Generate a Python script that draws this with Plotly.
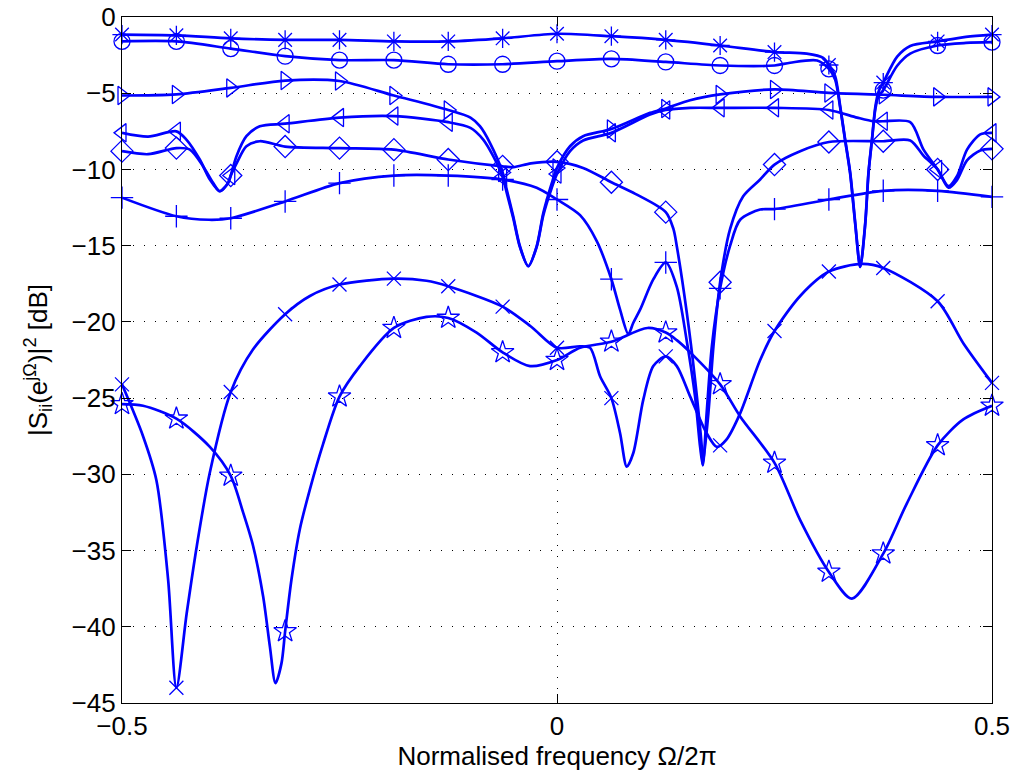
import plotly.graph_objects as go

# marker abscissae (every 1/16)
MARKER_X = [-0.5, -0.4375, -0.375, -0.3125, -0.25, -0.1875, -0.125, -0.0625, 0.0,
            0.0625, 0.125, 0.1875, 0.25, 0.3125, 0.375, 0.4375, 0.5]

# ---- series 1: asterisk ----
AST_LX = [-0.5, -0.4375, -0.375, -0.3125, -0.25, -0.1875, -0.125, -0.0625, 0, 0.0625, 0.125, 0.1875,
          0.25, 0.287, 0.306, 0.3125, 0.3197, 0.3255, 0.3312, 0.337, 0.3428, 0.3485, 0.3543, 0.358,
          0.362, 0.366, 0.3696, 0.375, 0.391, 0.406, 0.4375, 0.47, 0.5]
AST_LY = [-1.15, -1.2, -1.4, -1.5, -1.5, -1.6, -1.6, -1.4, -1.1, -1.26, -1.5, -1.87,
          -2.3, -2.4, -2.68, -3.15, -3.88, -5.85, -8.04, -10.2, -13.5, -16.4, -13.5, -10.2,
          -8.04, -5.85, -4.9, -4.3, -2.6, -1.9, -1.6, -1.3, -1.15]
AST_M = [-1.15, -1.2, -1.4, -1.5, -1.5, -1.6, -1.6, -1.4, -1.1, -1.26, -1.5, -1.87, -2.3, -3.15, -4.3, -1.6, -1.15]

# ---- series 2: circle ----
CIRC_LX = [-0.5, -0.4375, -0.375, -0.3125, -0.25, -0.1875, -0.125, -0.0625, 0, 0.0625, 0.125, 0.1875,
           0.25, 0.268, 0.299, 0.3125, 0.3197, 0.3255, 0.3312, 0.337, 0.3428, 0.3485, 0.3543, 0.358,
           0.362, 0.366, 0.3696, 0.375, 0.391, 0.406, 0.4375, 0.47, 0.5]
CIRC_LY = [-1.6, -1.6, -2.07, -2.57, -2.83, -2.83, -3.1, -3.1, -2.9, -2.75, -2.95, -3.18,
           -3.18, -3.0, -2.85, -3.4, -4.1, -5.95, -8.1, -10.3, -13.6, -16.4, -13.6, -10.3,
           -8.1, -6.0, -5.2, -4.8, -3.2, -2.4, -1.87, -1.7, -1.65]
CIRC_M = [-1.6, -1.6, -2.07, -2.57, -2.83, -2.83, -3.1, -3.1, -2.9, -2.75, -2.95, -3.18, -3.18, -3.4, -4.8, -1.87, -1.65]

# ---- series 3: right triangle ----
TRR_LX = [-0.5, -0.4375, -0.375, -0.3125, -0.25, -0.1875, -0.125, -0.0995, -0.0886, -0.0771, -0.0625,
          -0.0579, -0.0503, -0.0426, -0.033, -0.0234, -0.0157, -0.006, 0, 0.015, 0.03, 0.0625, 0.107,
          0.125, 0.153, 0.1875, 0.25, 0.3125, 0.375, 0.4375, 0.5]
TRR_LY = [-5.15, -5.08, -4.65, -4.17, -4.2, -5.15, -6.1, -6.6, -7.16, -8.25, -10.2,
          -11.3, -13.07, -15.04, -16.35, -15.04, -12.85, -10.9, -9.9, -8.48, -7.82, -7.35, -6.29,
          -6.0, -5.46, -5.08, -4.75, -4.98, -5.1, -5.24, -5.24]
TRR_M = [-5.15, -5.08, -4.65, -4.17, -4.2, -5.15, -6.1, -10.2, -9.9, -7.35, -6.0, -5.08, -4.75, -4.98, -5.1, -5.24, -5.24]

# ---- series 4: left triangle ----
TRL_LX = [-0.5, -0.47, -0.4375, -0.426, -0.4106, -0.399, -0.3876, -0.378, -0.375, -0.3684, -0.357,
          -0.3416, -0.3125, -0.25, -0.1875, -0.125, -0.0995, -0.0848, -0.0733, -0.0625, -0.0579,
          -0.0503, -0.0426, -0.033, -0.0234, -0.0157, -0.006, 0, 0.015, 0.03, 0.0625, 0.107, 0.125,
          0.153, 0.1875, 0.25, 0.3125, 0.345, 0.3638, 0.375, 0.406, 0.4213, 0.4375, 0.45, 0.4597,
          0.4713, 0.4865, 0.5]
TRL_LY = [-7.6, -7.85, -7.5, -8.04, -9.35, -10.66, -11.43, -10.88, -10.4, -9.13, -7.82,
          -7.17, -7.0, -6.6, -6.5, -6.9, -7.27, -8.04, -9.13, -10.5, -11.5,
          -13.2, -15.1, -16.35, -15.1, -13.0, -11.2, -10.3, -8.8, -8.1, -7.6, -6.4, -6.1,
          -5.96, -5.96, -5.96, -6.1, -6.6, -6.84, -6.84, -6.9, -8.7, -10.0, -11.1, -10.45,
          -8.7, -7.7, -7.6]
TRL_M = [-7.6, -7.5, -10.4, -7.0, -6.6, -6.5, -6.9, -10.5, -10.3, -7.6, -6.1, -5.96, -5.96, -6.1, -6.84, -10.0, -7.6]

# ---- series 5: diamond ----
DIA_LX = [-0.5, -0.47, -0.4375, -0.422, -0.4068, -0.3953, -0.3876, -0.378, -0.375, -0.368, -0.357,
          -0.3416, -0.3125, -0.25, -0.1875, -0.125, -0.0625, -0.05, -0.03, 0, 0.03, 0.0625, 0.09,
          0.125, 0.1338, 0.1377, 0.1492, 0.1587, 0.1664, 0.1676, 0.174, 0.1798, 0.1875, 0.199, 0.214,
          0.2335, 0.25, 0.2795, 0.3125, 0.375, 0.406, 0.4213, 0.4375, 0.45, 0.4597, 0.4713, 0.4865, 0.5]
DIA_LY = [-8.8, -9.0, -8.6, -8.7, -9.79, -10.88, -11.43, -10.88, -10.4, -9.57, -8.48,
          -8.15, -8.5, -8.6, -8.7, -9.35, -9.8, -9.85, -9.6, -9.5, -9.9, -10.84, -11.6,
          -12.8, -13.9, -15.04, -19.4, -23.8, -28.2, -29.4, -26.0, -21.6, -17.4, -13.9, -11.76,
          -10.66, -9.68, -8.8, -8.2, -8.15, -8.1, -9.1, -10.0, -11.2, -10.7, -9.4, -8.75, -8.65]
DIA_M = [-8.8, -8.6, -10.4, -8.5, -8.6, -8.7, -9.35, -9.8, -9.5, -10.84, -12.8, -17.4, -9.68, -8.2, -8.15, -10.0, -8.65]

# ---- series 6: plus ----
PLS_LX = [-0.5, -0.4375, -0.4, -0.375, -0.3125, -0.25, -0.1875, -0.125, -0.0625, -0.0234, 0, 0.0265,
          0.0457, 0.0625, 0.0725, 0.082, 0.0876, 0.0955, 0.1108, 0.125, 0.1377, 0.149, 0.1587, 0.1645,
          0.1676, 0.172, 0.178, 0.1875, 0.199, 0.2105, 0.2335, 0.25, 0.3125, 0.375, 0.4375, 0.5]
PLS_LY = [-11.85, -13.07, -13.3, -13.2, -12.1, -10.9, -10.4, -10.4, -10.66, -11.2, -11.97, -13.0,
          -14.7, -17.2, -19.2, -20.8, -20.07, -19.2, -17.2, -16.1, -17.7, -21.2, -24.9, -28.2,
          -29.4, -26.0, -21.6, -17.8, -15.0, -13.3, -12.63, -12.6, -11.97, -11.4, -11.4, -11.8]
PLS_M = [-11.85, -13.07, -13.2, -12.1, -10.9, -10.4, -10.4, -10.66, -11.97, -17.2, -16.1, -17.8, -12.6, -11.97, -11.4, -11.4, -11.8]

# ---- series 7: x ----
XX_LX = [-0.5, -0.4758, -0.4604, -0.447, -0.4375, -0.4256, -0.414, -0.3991, -0.375, -0.3493, -0.3125,
         -0.284, -0.25, -0.1875, -0.15, -0.125, -0.0625, -0.03, 0, 0.0265, 0.038, 0.0495, 0.0625,
         0.0725, 0.0802, 0.0877, 0.0992, 0.1107, 0.125, 0.1377, 0.1531, 0.172, 0.1837, 0.195, 0.2105,
         0.2335, 0.25, 0.2795, 0.3125, 0.35, 0.375, 0.4375, 0.467, 0.5]
XX_LY = [-24.1, -27.5, -30.4, -36.9, -44.0, -39.1, -34.7, -29.9, -24.6, -21.8, -19.5,
         -18.3, -17.55, -17.16, -17.3, -17.66, -19.0, -20.3, -21.7, -21.6, -21.7, -23.57, -25.0,
         -27.3, -29.5, -28.6, -25.1, -22.9, -22.26, -22.9, -24.9, -27.3, -28.2, -27.7, -26.0,
         -22.5, -20.6, -18.3, -16.7, -16.2, -16.46, -18.65, -21.4, -24.0]
XX_M = [-24.1, -44.0, -24.6, -19.5, -17.55, -17.16, -17.66, -19.0, -21.7, -25.0, -22.26, -28.1, -20.6, -16.7, -16.46, -18.65, -24.0]

# ---- series 8: pentagram ----
STR_LX = [-0.5, -0.4758, -0.4375, -0.399, -0.375, -0.3608, -0.3493, -0.3378, -0.33, -0.3236, -0.3167,
          -0.3125, -0.3052, -0.2956, -0.2841, -0.2688, -0.25, -0.2266, -0.1875, -0.15, -0.125, -0.0924,
          -0.0625, -0.031, 0, 0.0265, 0.0625, 0.104, 0.125, 0.1377, 0.1531, 0.1875, 0.2105, 0.25,
          0.2795, 0.3125, 0.339, 0.375, 0.4022, 0.4375, 0.467, 0.5]
STR_LY = [-25.4, -25.5, -26.35, -28.2, -30.1, -32.5, -34.7, -38.0, -41.3, -43.7, -42.4,
          -40.3, -36.9, -33.6, -31.0, -28.0, -24.9, -22.9, -20.4, -19.67, -19.74, -20.7,
          -22.0, -22.9, -22.5, -21.7, -21.3, -20.4, -20.7, -21.2, -22.0, -24.1, -26.2, -29.25,
          -33.0, -36.4, -38.15, -35.2, -31.9, -28.1, -26.4, -25.5]
STR_M = [-25.4, -26.35, -30.1, -40.3, -24.9, -20.4, -19.74, -22.0, -22.5, -21.3, -20.7, -24.1, -29.25, -36.4, -35.2, -28.1, -25.5]

SERIES = [
    (AST_LX, AST_LY, AST_M, "asterisk-open", 16),
    (CIRC_LX, CIRC_LY, CIRC_M, "circle-open", 16),
    (TRR_LX, TRR_LY, TRR_M, "triangle-right-open", 16),
    (TRL_LX, TRL_LY, TRL_M, "triangle-left-open", 16),
    (DIA_LX, DIA_LY, DIA_M, "diamond-open", 17),
    (PLS_LX, PLS_LY, PLS_M, "cross-thin-open", 16),
    (XX_LX, XX_LY, XX_M, "x-thin-open", 14),
    (STR_LX, STR_LY, STR_M, "star-open", 17),
]

BLUE = "rgb(0,0,255)"
FONT = "Liberation Sans, Arial, Helvetica, sans-serif"
FS = 26

fig = go.Figure()
for lx, ly, m, sym, sz in SERIES:
    fig.add_trace(go.Scatter(x=lx, y=ly, mode="lines",
                             line=dict(color=BLUE, width=2.7, shape="spline", smoothing=0.8),
                             showlegend=False, hoverinfo="skip"))
    fig.add_trace(go.Scatter(x=MARKER_X, y=m, mode="markers", cliponaxis=False,
                             marker=dict(symbol=sym, size=sz, color=BLUE,
                                         line=dict(color=BLUE, width=1.3)),
                             showlegend=False))

axis_common = dict(showline=True, linecolor="black", linewidth=1.2, mirror="ticks",
                   ticks="inside", ticklen=9, tickcolor="black", tickwidth=1,
                   showgrid=True, gridcolor="black", gridwidth=1, griddash="1px,10px",
                   zeroline=False, automargin=False,
                   tickfont=dict(family=FONT, size=FS, color="black"))

fig.update_xaxes(range=[-0.5, 0.5], tickvals=[-0.5, 0, 0.5], ticktext=["\u22120.5", "0", "0.5"],
                 title=dict(text="Normalised frequency \u03a9/2\u03c0",
                            font=dict(family=FONT, size=FS, color="black"), standoff=6),
                 **axis_common)
fig.update_yaxes(range=[-45, 0], tickvals=list(range(-45, 1, 5)),
                 ticktext=["\u2212" + str(-v) if v < 0 else "0" for v in range(-45, 1, 5)],
                 title=dict(text="|S<sub>ii</sub>(e<sup>j\u03a9</sup>)|<sup>2</sup> [dB]",
                            font=dict(family=FONT, size=FS, color="black"), standoff=16),
                 **axis_common)

fig.update_layout(width=1013, height=773, margin=dict(l=122, r=21, t=17, b=70),
                  paper_bgcolor="white", plot_bgcolor="white",
                  font=dict(family=FONT, color="black"))

fig.write_html("out.html")
